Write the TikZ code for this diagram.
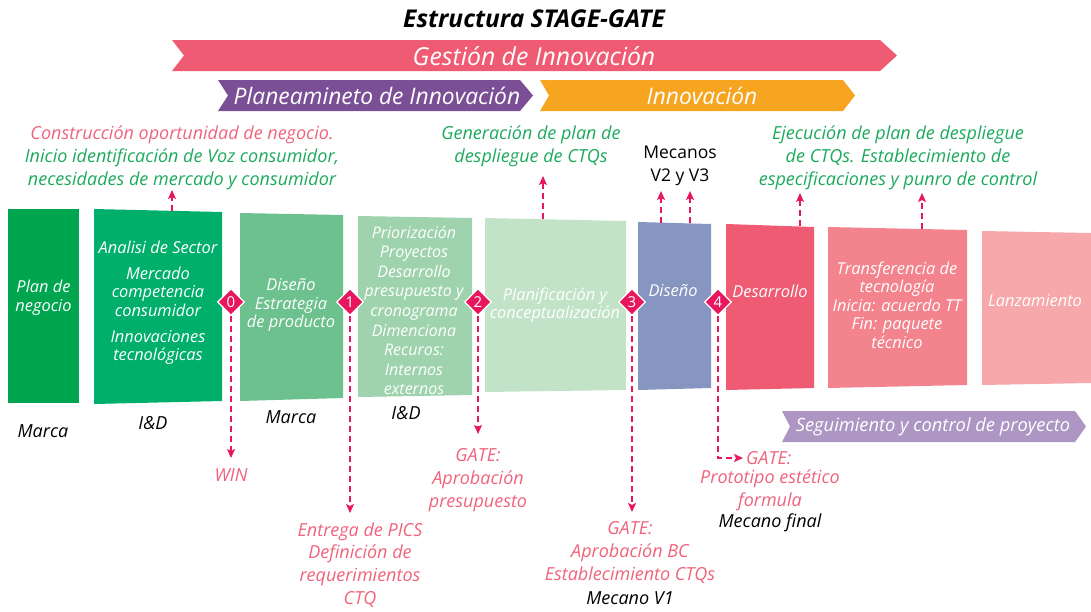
\documentclass[tikz,border=0pt]{standalone}
\usepackage{fontspec}
\setmainfont{Open Sans}
\usetikzlibrary{arrows.meta,shapes.geometric}
\definecolor{bannerpink}{HTML}{EF5B72}
\definecolor{bannerpurple}{HTML}{7B4F96}
\definecolor{bannerorange}{HTML}{F7A520}
\definecolor{bannerlilac}{HTML}{AD96C4}
\definecolor{gmag}{HTML}{E8175D}
\definecolor{txtpink}{HTML}{F0637A}
\definecolor{txtgreen}{HTML}{1BAA5C}
\definecolor{cA}{HTML}{00A550}
\definecolor{cB}{HTML}{00B06A}
\definecolor{cC}{HTML}{6CC18E}
\definecolor{cD}{HTML}{9FD3AD}
\definecolor{cE}{HTML}{C3E3C9}
\definecolor{cF}{HTML}{8795C1}
\definecolor{cG}{HTML}{EF5B72}
\definecolor{cH}{HTML}{F3838D}
\definecolor{cI}{HTML}{F6A8AB}
\begin{document}
\begin{tikzpicture}[x=1pt,y=-1pt,
  boxtxt/.style={text=white,align=center,font=\fontsize{16.4}{18.6}\selectfont\itshape,inner sep=0pt},
  lbl/.style={align=center,font=\fontsize{18}{22.8}\selectfont\itshape,inner sep=0pt},
  banner/.style={text=white,font=\fontsize{22.8}{26}\selectfont\itshape,inner sep=0pt},
  gate/.style={diamond,fill=gmag,draw=white,line width=1.3pt,minimum size=27pt,inner sep=0pt,text=white,font=\fontsize{15}{15}\selectfont},
  garr/.style={gmag,line width=1.4pt,dash pattern=on 6pt off 4pt,-{Stealth[length=9pt,width=8pt,inset=2pt]}}
]
\useasboundingbox (0,0) rectangle (1091,611);

% title
\node[font=\fontsize{24.5}{28}\selectfont\bfseries\itshape,inner sep=0pt] (title) at (534,19) {Estructura STAGE-GATE};

% banners
\fill[bannerpink] (172,40) -- (880,40) -- (897,55.5) -- (880,71) -- (172,71) -- (184,55.5) -- cycle;
\node[banner,font=\fontsize{24.8}{28}\selectfont\itshape] (gestion) at (534,56) {Gestión de Innovación};
\fill[bannerpurple] (218,80) -- (520,80) -- (533,95.5) -- (520,111) -- (218,111) -- (228,95.5) -- cycle;
\node[banner] (planea) at (377,96) {Planeamineto de Innovación};
\fill[bannerorange] (540,80) -- (843,80) -- (855,95.5) -- (843,111) -- (540,111) -- (549,95.5) -- cycle;
\node[banner] (innov) at (702,96) {Innovación};
\fill[bannerlilac] (782,411) -- (1075,411) -- (1086,426.5) -- (1075,442) -- (782,442) -- (790,426.5) -- cycle;
\node[banner,font=\fontsize{18.3}{22}\selectfont\itshape] (seguim) at (933,427) {Seguimiento y control de proyecto};

% stage boxes
\fill[cA] (8,209) -- (79,209) -- (79,403) -- (8,403) -- cycle;
\fill[cB] (94,209) -- (222,212) -- (222,401) -- (94,404) -- cycle;
\fill[cC] (240,213) -- (343,215) -- (343,398) -- (240,401) -- cycle;
\fill[cD] (358,216) -- (472,218) -- (472,395) -- (358,397) -- cycle;
\fill[cE] (485,218) -- (626,221) -- (626,390) -- (485,392) -- cycle;
\fill[cF] (638,222) -- (711,224) -- (711,388) -- (638,390) -- cycle;
\fill[cG] (726,224) -- (814,227) -- (814,388) -- (726,390) -- cycle;
\fill[cH] (828,227) -- (967,230) -- (967,385) -- (828,388) -- cycle;
\fill[cI] (982,231) -- (1091,233) -- (1091,383) -- (982,385) -- cycle;

% box texts
\node[boxtxt] (s1) at (43.5,298) {Plan de\\negocio};
\node[boxtxt] (s2) at (158,303) {Analisi de Sector\\[7pt]Mercado\\competencia\\consumidor\\[7pt]Innovaciones\\tecnológicas};
\node[boxtxt] (s3) at (291,305) {Diseño\\Estrategia\\de producto};
\node[boxtxt,font=\fontsize{16}{19.6}\selectfont\itshape] (s4) at (414,310.5) {Priorización\\Proyectos\\Desarrollo\\presupuesto y\\cronograma\\Dimenciona\\Recuros:\\Internos\\externos};
\node[boxtxt] (s5) at (555,305) {Planificación y\\conceptualización};
\node[boxtxt] (s6) at (673,291) {Diseño};
\node[boxtxt] (s7) at (770,291) {Desarrollo};
\node[boxtxt] (s8) at (897,305) {Transferencia de\\tecnología\\Inicia: acuerdo TT\\Fin: paquete\\técnico};
\node[boxtxt] (s9) at (1035,301) {Lanzamiento};

% owner labels
\node[lbl] (o1) at (43,431) {Marca};
\node[lbl] (o2) at (153,423) {I\&D};
\node[lbl] (o3) at (291,417) {Marca};
\node[lbl] (o4) at (406,413) {I\&D};

% gates
\node[gate] (g0) at (231,302) {0};
\node[gate] (g1) at (350,302) {1};
\node[gate] (g2) at (478,302) {2};
\node[gate] (g3) at (632,302) {3};
\node[gate] (g4) at (718,302) {4};

% top labels
\node[lbl] (t1) at (182,157.5) {\textcolor{txtpink}{Construcción oportunidad de negocio.}\\\textcolor{txtgreen}{Inicio identificación de Voz consumidor,}\\\textcolor{txtgreen}{necesidades de mercado y consumidor}};
\node[lbl,text=txtgreen] (t2) at (531,146.5) {Generación de plan de\\despliegue de CTQs};
\node[lbl,font=\fontsize{17.5}{22.8}\selectfont] (t3) at (680,165.5) {Mecanos\\V2 y V3};
\node[lbl,text=txtgreen] (t4) at (898,158) {Ejecución de plan de despliegue\\de CTQs. Establecimiento de\\especificaciones y punro de control};

% bottom labels
\node[lbl,text=txtpink] (win) at (231,475) {WIN};
\node[lbl,text=txtpink] (b1) at (360,565) {Entrega de PICS\\Definición de\\requerimientos\\CTQ};
\node[lbl,text=txtpink] (b2) at (478,480) {GATE:\\Aprobación\\presupuesto};
\node[lbl,text=txtpink] (b3) at (630,552.5) {GATE:\\Aprobación BC\\Establecimiento CTQs};
\node[lbl] (b3m) at (630,598) {Mecano V1};
\node[lbl,text=txtpink,anchor=west] (b4) at (746,458) {GATE:};
\node[lbl,text=txtpink] (b4t) at (770,490) {Prototipo estético\\formula};
\node[lbl] (b4m) at (770,523) {Mecano final};

% top connector coordinates
\coordinate (u1a) at (172,211);  \coordinate (u1b) at (172,190);
\coordinate (u2a) at (543,219);  \coordinate (u2b) at (543,176);
\coordinate (u3a) at (661,223);  \coordinate (u3b) at (661,191);
\coordinate (u4a) at (690,223);  \coordinate (u4b) at (690,191);
\coordinate (u5a) at (800,226);  \coordinate (u5b) at (800,193);
\coordinate (u6a) at (922,229);  \coordinate (u6b) at (922,193);
\draw[garr] (u1a) -- (u1b);
\draw[garr] (u2a) -- (u2b);
\draw[garr] (u3a) -- (u3b);
\draw[garr] (u4a) -- (u4b);
\draw[garr] (u5a) -- (u5b);
\draw[garr] (u6a) -- (u6b);

% gate connectors
\coordinate (e0) at (231,458);
\coordinate (e1) at (350,513);
\coordinate (e2) at (478,434);
\coordinate (e3) at (632,512);
\coordinate (e4) at (743,458);
\draw[garr] (g0.south) -- (e0);
\draw[garr] (g1.south) -- (e1);
\draw[garr] (g2.south) -- (e2);
\draw[garr] (g3.south) -- (e3);
\draw[garr] (g4.south) |- (e4);
\end{tikzpicture}
\end{document}
